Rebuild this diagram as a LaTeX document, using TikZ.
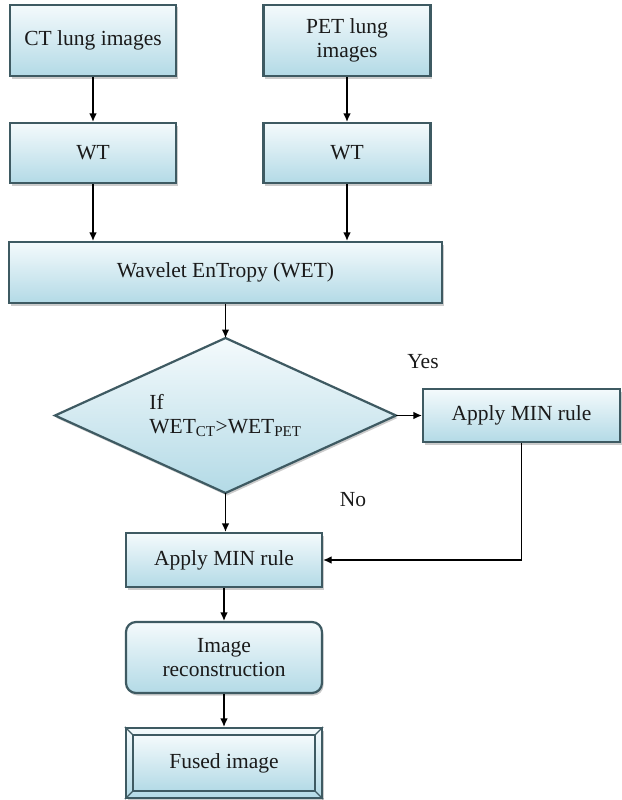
\documentclass[tikz,border=0pt]{standalone}
\usepackage{fontspec}
\setmainfont{Liberation Serif}
\usetikzlibrary{shapes.geometric,arrows.meta,shadows}
\definecolor{boxtop}{HTML}{F4FAFC}
\definecolor{boxbot}{HTML}{B3DAE6}
\definecolor{edge}{HTML}{3E5A62}
\definecolor{txt}{HTML}{1A1A1A}
\tikzset{
  flowbox/.style={draw=edge, line width=2.2pt, top color=boxtop, bottom color=boxbot,
    drop shadow={shadow xshift=1.5pt, shadow yshift=-2.5pt, opacity=0.4},
    text=txt, font=\rmfamily\fontsize{21.5}{24.5}\selectfont, align=center, inner sep=0pt},
  decision/.style={flowbox, shape=diamond, aspect=2.2, minimum width=341pt, minimum height=155pt},
  lbl/.style={text=txt, font=\rmfamily\fontsize{21.5}{24.5}\selectfont, inner sep=0pt},
  conn/.style={draw=black, line width=1.2pt, -{Latex[length=8.5pt,width=7.5pt]}}
}
\begin{document}
\begin{tikzpicture}[x=1pt,y=-1pt]
\useasboundingbox (0,0) rectangle (621,800);
\fill[white] (0,0) rectangle (621,800);

\node[flowbox, minimum width=166pt, minimum height=71pt] (ct) at (93,40.5) {CT lung images};
\node[flowbox, minimum width=167pt, minimum height=71pt] (pet) at (347,40.5) {PET lung\\images};
\node[flowbox, minimum width=166pt, minimum height=60pt] (wt1) at (93,153) {WT};
\node[flowbox, minimum width=167pt, minimum height=60pt] (wt2) at (347,153) {WT};
\node[flowbox, minimum width=433pt, minimum height=61pt] (wet) at (225.5,272.5) {Wavelet EnTropy (WET)};
\node[decision, align=left, outer sep=0pt] (dec) at (225.5,415.5) {If\\WET\textsubscript{CT}>WET\textsubscript{PET}};
\node[flowbox, minimum width=197pt, minimum height=53pt] (minr) at (521.5,415.5) {Apply MIN rule};
\node[flowbox, minimum width=196pt, minimum height=54pt] (minb) at (224,560) {Apply MIN rule};
\node[flowbox, rounded corners=10pt, minimum width=196pt, minimum height=71pt] (rec) at (224,657.5) {Image\\reconstruction};
\node[flowbox, minimum width=196pt, minimum height=70pt] (fus) at (224,763) {};
\draw[edge, line width=1.6pt, top color=boxtop, bottom color=boxbot]
  ([shift={(8,8)}]fus.north west) rectangle ([shift={(-8,-8)}]fus.south east);
\draw[edge, line width=1.3pt] (fus.north west) -- ([shift={(8,8)}]fus.north west)
  (fus.north east) -- ([shift={(-8,8)}]fus.north east)
  (fus.south west) -- ([shift={(8,-8)}]fus.south west)
  (fus.south east) -- ([shift={(-8,-8)}]fus.south east);
\node[lbl] (fustxt) at (fus.center) {Fused image};

\node[lbl] (yes) at (423,362) {Yes};
\node[lbl] (no) at (353,500) {No};

\draw[conn] (ct) -- (wt1);
\draw[conn] (pet) -- (wt2);
\draw[conn] (wt1.south) -- (wt1.south |- wet.north);
\draw[conn] (wt2.south) -- (wt2.south |- wet.north);
\draw[conn] (wet.south -| dec.north) -- (dec.north);
\draw[conn] (dec.east) -- (minr.west);
\draw[conn] (dec.south) -- (dec.south |- minb.north);
\draw[conn] (minr.south) |- (minb.east);
\draw[conn] (minb.south) -- (rec.north);
\draw[conn] (rec.south) -- (fus.north);
\end{tikzpicture}
\end{document}
